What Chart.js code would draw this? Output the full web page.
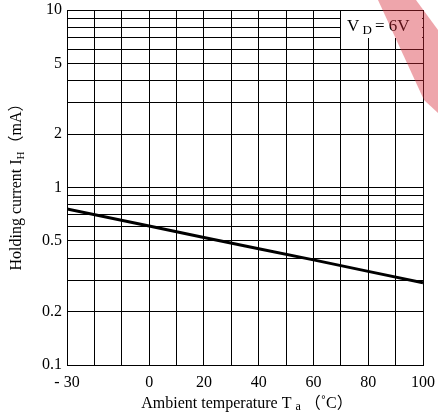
<!DOCTYPE html>
<html lang="en">
<head>
    <meta charset="UTF-8">
    <title>Holding current vs ambient temperature</title>
    <style>
        html, body { margin: 0; padding: 0; background: #fff; }
        #box { width: 438px; height: 417px; }
    </style>
</head>
<body>
    <div id="box">
        <canvas id="myc" width="438" height="417"></canvas>
    </div>

    <script src="https://cdn.jsdelivr.net/npm/chart.js"></script>
    <script>
        // data
        var temps = [-30, 0, 20, 40, 60, 80, 100];
        var current = [0.757, 0.607, 0.523, 0.452, 0.391, 0.337, 0.291];

        // axis ticks
        var yGrid = [0.1, 0.2, 0.3, 0.4, 0.5, 0.6, 0.7, 0.8, 0.9, 1, 2, 3, 4, 5, 6, 7, 8, 9, 10];
        var yTickLabels = [0.1, 0.2, 0.5, 1, 2, 5, 10];
        var xTickLabels = [-30, 0, 20, 40, 60, 80, 100];

        var serif = '"Liberation Serif", "DejaVu Serif", "Noto Sans CJK SC", serif';

        var pts = temps.map(function (t, i) { return { x: t, y: current[i] }; });

        // titles with subscripts, the V_D note, and the watermark
        var extras = {
            id: 'extras',
            afterDraw: function (chart) {
                var c = chart.ctx;
                var a = chart.chartArea;
                c.save();
                c.fillStyle = '#000';
                c.textBaseline = 'alphabetic';

                // V_D = 6V note
                c.fillStyle = '#fff';
                c.fillRect(341, a.top + 1, a.right - 341 - 1, 27);
                c.fillStyle = '#000';
                c.font = '17px ' + serif;
                var x = 347, base = 31;
                c.fillText('V', x, base); x += c.measureText('V ').width - 1;
                c.font = '13px ' + serif;
                c.fillText('D', x, base + 3); x += c.measureText('D').width + 3;
                c.font = '17px ' + serif;
                c.fillText('= 6V', x, base);

                // x title
                c.font = '16px ' + serif;
                var p1 = 'Ambient temperature T ', p2 = 'a', p3 = ' \uFF08\u02DAC\uFF09';
                var w1 = c.measureText(p1).width, w3 = c.measureText(p3).width;
                c.font = '12px ' + serif;
                var w2 = c.measureText(p2).width;
                var xs = 247 - (w1 + w2 + w3) / 2;
                c.font = '16px ' + serif;
                c.fillText(p1, xs, 408);
                c.font = '12px ' + serif;
                c.fillText(p2, xs + w1, 410);
                c.font = '16px ' + serif;
                c.fillText(p3, xs + w1 + w2, 408);

                // y title
                c.translate(21, 183);
                c.rotate(-Math.PI / 2);
                var q1 = 'Holding current I', q2 = 'H', q3 = '\uFF08mA\uFF09';
                c.font = '16px ' + serif;
                var v1 = c.measureText(q1).width, v3 = c.measureText(q3).width;
                c.font = '11px ' + serif;
                var v2 = c.measureText(q2).width;
                var ys = -(v1 + v2 + v3) / 2;
                c.font = '16px ' + serif;
                c.fillText(q1, ys, 0);
                c.font = '11px ' + serif;
                c.fillText(q2, ys + v1, 3);
                c.font = '16px ' + serif;
                c.fillText(q3, ys + v1 + v2, 0);
                c.restore();

                // red watermark in the corner
                c.save();
                c.fillStyle = 'rgba(214, 40, 55, 0.42)';
                c.beginPath();
                c.moveTo(378, 0);
                c.lineTo(416, 0);
                c.lineTo(438, 30);
                c.lineTo(438, 113);
                c.lineTo(424, 100);
                c.closePath();
                c.fill();
                c.restore();
            }
        };

        var ctx = document.getElementById('myc').getContext('2d');
        var myChart = new Chart(ctx, {
            type: 'line',
            data: {
                datasets: [{
                    data: pts,
                    borderColor: '#000',
                    borderWidth: 3,
                    pointRadius: 0,
                    tension: 0,
                    fill: false
                }]
            },
            options: {
                responsive: false,
                animation: false,
                devicePixelRatio: 1,
                layout: { padding: { top: 10, right: 15, left: 0, bottom: 0 } },
                plugins: {
                    legend: { display: false },
                    tooltip: { enabled: false }
                },
                scales: {
                    x: {
                        type: 'linear',
                        min: -30,
                        max: 100,
                        ticks: {
                            stepSize: 10,
                            color: '#000',
                            padding: 8,
                            maxRotation: 0,
                            autoSkip: false,
                            font: { family: serif, size: 16 },
                            callback: function (v) {
                                if (xTickLabels.indexOf(v) < 0) return '';
                                return v < 0 ? '- ' + Math.abs(v) : String(v);
                            }
                        },
                        grid: { color: '#000', lineWidth: 1, drawTicks: false },
                        border: { color: '#000', width: 1 },
                        afterFit: function (s) {
                            s.height = 52;
                            s.paddingLeft = 0;
                            s.paddingRight = 0;
                        }
                    },
                    y: {
                        type: 'logarithmic',
                        min: 0.1,
                        max: 10,
                        afterBuildTicks: function (s) {
                            s.ticks = yGrid.map(function (v) { return { value: v }; });
                        },
                        ticks: {
                            color: '#000',
                            padding: 5,
                            autoSkip: false,
                            font: { family: serif, size: 16 },
                            callback: function (v) {
                                return yTickLabels.indexOf(v) >= 0 ? String(v) : '';
                            }
                        },
                        grid: { color: '#000', lineWidth: 1, drawTicks: false },
                        border: { color: '#000', width: 1 },
                        afterFit: function (s) {
                            s.width = 67;
                            s.paddingTop = 0;
                            s.paddingBottom = 0;
                        }
                    }
                }
            },
            plugins: [extras]
        });
    </script>
</body>
</html>
